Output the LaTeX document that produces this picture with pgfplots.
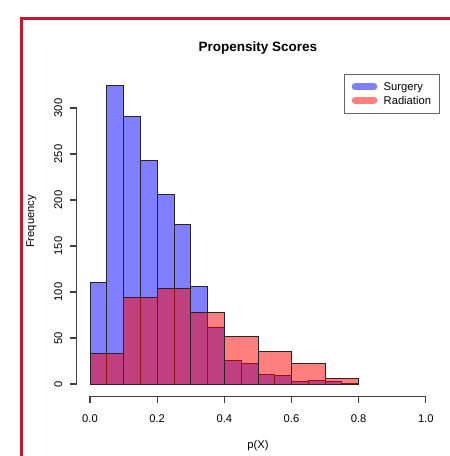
\documentclass[border=0pt]{standalone}
\usepackage{fontspec}
\setmainfont{Liberation Sans}
\usepackage{pgfplots}
\pgfplotsset{compat=1.18}
\definecolor{framered}{RGB}{200,22,50}
\definecolor{surg}{RGB}{0,0,255}
\definecolor{radi}{RGB}{255,0,0}
\begin{document}
\begin{tikzpicture}[x=1bp,y=1bp]
\path[use as bounding box] (0,0) rectangle (450,456);
\draw[framered, line width=2.6bp] (21.3,-5) -- (21.3,437.3) -- (455,437.3);
\begin{axis}[
  at={(76.6bp,60bp)}, anchor=south west,
  scale only axis, width=362.6bp, height=323bp,
  xmin=-0.04, xmax=1.04, ymin=-13, ymax=338,
  axis x line*=bottom, axis y line*=left,
  x axis line style={-, black!70, line width=0.8bp, shorten <=13.43bp, shorten >=13.43bp},
  y axis line style={-, black!70, line width=0.8bp, shorten <=11.96bp, shorten >=34.97bp},
  tick align=outside, major tick length=7bp,
  xtick={0,0.2,0.4,0.6,0.8,1}, ytick={0,50,100,150,200,250,300},
  tick style={draw=none},
  font=\fontsize{11.2bp}{13.4bp}\selectfont,
  /pgf/number format/assume math mode=true,
  xticklabel style={anchor=base, yshift=-19.5bp, /pgf/number format/.cd, fixed, fixed zerofill, precision=1},
  yticklabel style={anchor=base, rotate=90},
  yticklabel shift=7.6bp,
  clip=false,
]
\addplot[ybar interval, fill=surg, fill opacity=0.5, draw=black!85, line width=0.75bp]
  coordinates {(0,110) (0.05,324) (0.1,291) (0.15,243) (0.2,206) (0.25,173) (0.3,106) (0.35,62)
               (0.4,26) (0.45,22) (0.5,10) (0.55,9) (0.6,3) (0.65,4) (0.7,3) (0.75,1) (0.8,0)};
\addplot[ybar interval, fill=radi, fill opacity=0.5, draw=black!85, line width=0.75bp]
  coordinates {(0,33) (0.1,94) (0.2,104) (0.3,78) (0.4,52) (0.5,35) (0.6,22) (0.7,6) (0.8,0)};
\end{axis}
% R-style axis lines and outward ticks, spanning only the tick range
\draw[black!75, line width=1.1bp] (90,59.6) -- (425.8,59.6);
\foreach \xp in {90,157.2,224.3,291.5,358.6,425.8}
  \draw[black!75, line width=1.1bp] (\xp,59.6) -- (\xp,52.6);
\draw[black!75, line width=1.1bp] (76.6,71.96) -- (76.6,348.03);
\foreach \yp in {71.96,117.97,163.98,209.99,256.0,302.0,348.03}
  \draw[black!75, line width=1.1bp] (76.6,\yp) -- (69.6,\yp);
% legend
\draw[black!60, line width=0.75bp, fill=white] (344.3,342.2) rectangle (439,382);
\draw[surg!50, line width=7bp, line cap=round] (355.2,369) -- (373.8,369);
\draw[radi!50, line width=7bp, line cap=round] (355.2,355.5) -- (373.8,355.5);
\node[font=\fontsize{11.2bp}{13.4bp}\selectfont, anchor=base west, inner sep=0pt] at (383.5,365) {Surgery};
\node[font=\fontsize{11.2bp}{13.4bp}\selectfont, anchor=base west, inner sep=0pt] at (383.5,351.5) {Radiation};
% titles
\node[font=\bfseries\fontsize{13.5bp}{16bp}\selectfont, anchor=base] at (257.8,404.7) {Propensity Scores};
\node[font=\fontsize{11.2bp}{13.4bp}\selectfont, anchor=base] at (258,7.7) {p(X)};
\node[font=\fontsize{11.2bp}{13.4bp}\selectfont, rotate=90, anchor=base] at (34,234.5) {Frequency};
\end{tikzpicture}
\end{document}
